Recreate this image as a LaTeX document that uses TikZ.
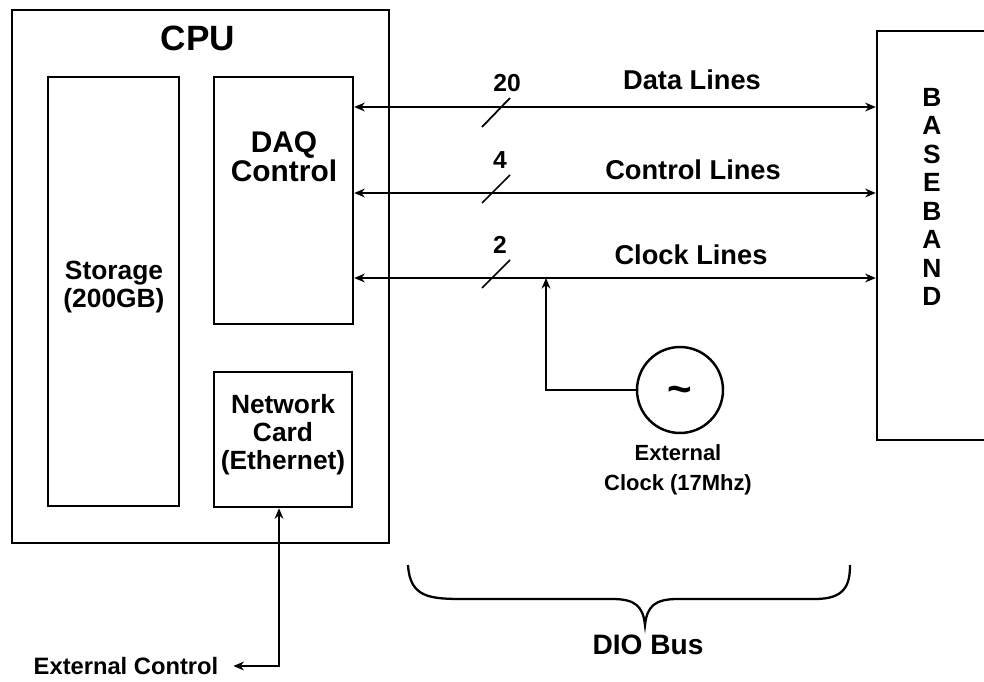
\documentclass[tikz,border=0pt]{standalone}
\usepackage{fontspec}
\setmainfont{Liberation Sans}
\usetikzlibrary{arrows.meta}

\begin{document}
\begin{tikzpicture}[x=0.02cm, y=-0.02cm, line width=1.3pt, >={Stealth[length=6pt,width=5pt]},
  bloc/.style={draw, line width=1.4pt, inner sep=0pt},
  txt/.style={font=\bfseries, align=center, inner sep=0pt}]
\useasboundingbox (0,0) rectangle (984,682); % taille de l'image

% Le CPU et ses blocs
\node[bloc, line width=1.6pt, minimum width=7.54cm, minimum height=10.66cm] (cpu) at (200.5,276.5) {};
\node[txt, font=\fontsize{20}{22}\bfseries] (cpulbl) at (198,38) {CPU};
\node[bloc, minimum width=2.62cm, minimum height=8.58cm] (stor) at (113.5,291.5) {};
\node[txt, font=\fontsize{15}{16}\bfseries] (storlbl) at (114,287) {Storage\\(200GB)};
\node[bloc, minimum width=2.78cm, minimum height=4.94cm] (daq) at (283.5,200.5) {};
\node[txt, font=\fontsize{17}{16.5}\bfseries] (daqlbl) at (284,157) {DAQ\\Control};
\node[bloc, minimum width=2.76cm, minimum height=2.7cm] (net) at (283,439.5) {};
\node[txt, font=\fontsize{15}{16}\bfseries] (netlbl) at (283,435) {Network\\Card\\(Ethernet)};

% Le bloc de droite (coupé par le bord)
\node[bloc, minimum width=2.46cm, minimum height=8.18cm] (base) at (938.5,235.5) {};
\node[txt, font=\fontsize{15}{16.2}\bfseries] (baselbl) at (932,197) {B\\A\\S\\E\\B\\A\\N\\D};

% Les trois bus
\coordinate (dl) at (600,107);
\coordinate (cl) at (600,193);
\coordinate (kl) at (600,278);
\draw[<->] (daq.east |- dl) -- (base.west |- dl);
\draw[<->] (daq.east |- cl) -- (base.west |- cl);
\draw[<->] (daq.east |- kl) -- (base.west |- kl);
% Les barres obliques
\draw[line width=1pt] (482,127) -- (510,98);
\draw[line width=1pt] (482,203) -- (510,175);
\draw[line width=1pt] (482,288) -- (510,260);
\node[txt, font=\fontsize{14}{16}\bfseries] (n20) at (507,83) {20};
\node[txt, font=\fontsize{14}{16}\bfseries] (n4) at (500,160) {4};
\node[txt, font=\fontsize{14}{16}\bfseries] (n2) at (500,245) {2};
\node[txt, font=\fontsize{15.5}{17}\bfseries] (datalbl) at (692,80) {Data Lines};
\node[txt, font=\fontsize{15.5}{17}\bfseries] (ctrllbl) at (693,170) {Control Lines};
\node[txt, font=\fontsize{15.5}{17}\bfseries] (clklbl) at (691,255) {Clock Lines};

% L'horloge externe
\node[draw, circle, line width=1.4pt, minimum size=1.72cm, inner sep=0pt] (osc) at (680,390) {\raisebox{-0.27cm}[0pt][0pt]{\fontsize{24}{24}\bfseries\textasciitilde}};
\node[txt, font=\fontsize{12.5}{17}\bfseries] (osclbl) at (678,470) {External\\Clock (17Mhz)};
\coordinate (tap) at (546,278);
\draw[->] (osc.west) -| (tap);

% Le contrôle externe
\node[txt, font=\fontsize{13.5}{16}\bfseries] (ext) at (126,666) {External Control};
\draw[<->] ([xshift=0.28cm]ext.east) -| ([xshift=-0.08cm]net.south);

% L'accolade du bus
\draw (408,565) .. controls (410,598) and (430,599) .. (465,599) -- (612,599)
  .. controls (635,599) and (643,606) .. (645,625)
  .. controls (647,606) and (655,599) .. (678,599) -- (815,599)
  .. controls (845,599) and (850,585) .. (850,565);
\node[txt, font=\fontsize{16}{18}\bfseries] (dio) at (648,645) {DIO Bus};
\end{tikzpicture}
\end{document}
